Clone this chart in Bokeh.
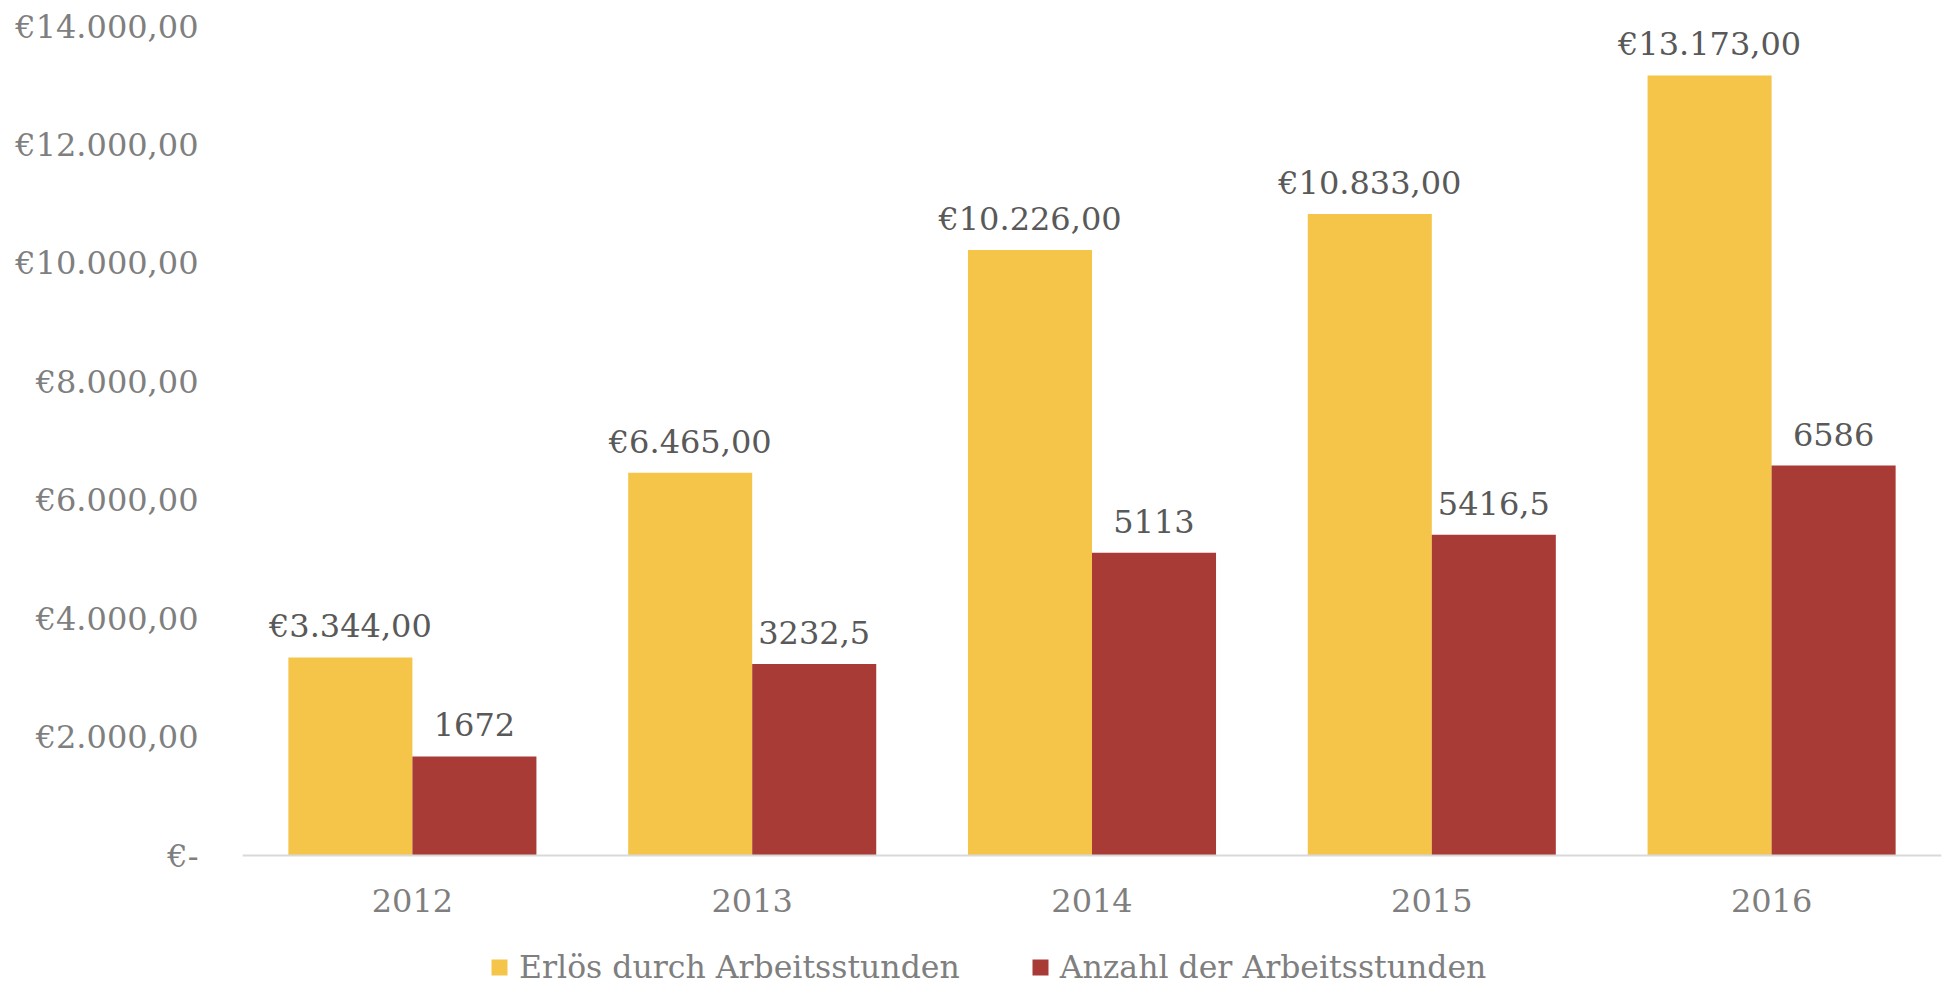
from bokeh.plotting import figure
from bokeh.models import ColumnDataSource, FactorRange, FixedTicker, LabelSet, Legend, LegendItem, Range1d
from bokeh.transform import dodge
from bokeh.core.properties import value
from bokeh.embed import file_html
from bokeh.resources import INLINE

# ---------------- data ----------------
years = ["2012", "2013", "2014", "2015", "2016"]
erloes = [3344, 6465, 10226, 10833, 13173]          # Erlös durch Arbeitsstunden (EUR)
stunden = [1672, 3232.5, 5113, 5416.5, 6586]        # Anzahl der Arbeitsstunden
series_names = ["Erlös durch Arbeitsstunden", "Anzahl der Arbeitsstunden"]
y_ticks = [0, 2000, 4000, 6000, 8000, 10000, 12000, 14000]
y_tick_labels = ["€-", "€2.000,00", "€4.000,00", "€6.000,00", "€8.000,00",
                 "€10.000,00", "€12.000,00", "€14.000,00"]


def eur(v):
    s = f"{v:,.2f}"
    s = s.replace(",", "X").replace(".", ",").replace("X", ".")
    return "€" + s


def num(v):
    if float(v) == int(v):
        return str(int(v))
    return str(v).replace(".", ",")


FONT = "DejaVu Serif"
FS = "32px"
YELLOW = "#F5C54A"
RED = "#A93B36"
AXIS_TXT = "#7f7f7f"
LBL_TXT = "#595959"

# layout (pixels)
W_FIG, H_FIG = 1950, 986
TOP, ZERO_Y = 26, 855          # pixel rows of 14000 and of 0
Y_MAX = 14000
px_per_unit = (ZERO_Y - TOP) / Y_MAX
y_start = -(H_FIG - ZERO_Y) / px_per_unit   # room below the zero line for axis labels and legend

source = ColumnDataSource(dict(
    year=years,
    erloes=erloes,
    stunden=stunden,
    erloes_lbl=[eur(v) for v in erloes],
    stunden_lbl=[num(v) for v in stunden],
))

p = figure(width=W_FIG, height=H_FIG, x_range=FactorRange(*years),
           y_range=Range1d(y_start, Y_MAX), output_backend="svg",
           toolbar_location=None, min_border_left=242, min_border_right=9,
           min_border_top=TOP, min_border_bottom=0)
p.outline_line_color = None
p.xgrid.grid_line_color = None
p.ygrid.grid_line_color = None

W = 0.365
off = W / 2
r1 = p.vbar(x=dodge("year", -off, range=p.x_range), top="erloes", bottom=0, width=W,
            source=source, fill_color=YELLOW, line_color=None)
r2 = p.vbar(x=dodge("year", off, range=p.x_range), top="stunden", bottom=0, width=W,
            source=source, fill_color=RED, line_color=None)

for xo, field in ((-off, "erloes"), (off, "stunden")):
    p.add_layout(LabelSet(x=dodge("year", xo, range=p.x_range), y=field,
                          text=field + "_lbl", source=source,
                          text_align="center", text_baseline="alphabetic",
                          y_offset=20, text_font=value(FONT),
                          text_font_size=FS, text_color=LBL_TXT))

# x axis, drawn at y = 0
xa = p.xaxis[0]
xa.fixed_location = 0
xa.axis_line_color = "#d9d9d9"
xa.axis_line_width = 2
xa.major_tick_line_color = None
xa.minor_tick_line_color = None
xa.major_label_text_font = FONT
xa.major_label_text_font_size = FS
xa.major_label_text_color = AXIS_TXT
xa.major_label_standoff = 27

# y axis
ya = p.yaxis[0]
ya.ticker = FixedTicker(ticks=y_ticks)
ya.major_label_overrides = {t: l for t, l in zip(y_ticks, y_tick_labels)}
ya.axis_line_color = None
ya.major_tick_line_color = None
ya.minor_tick_line_color = None
ya.major_label_text_font = FONT
ya.major_label_text_font_size = FS
ya.major_label_text_color = AXIS_TXT
ya.major_label_standoff = 38

legend = Legend(items=[LegendItem(label=series_names[0], renderers=[r1]),
                       LegendItem(label=series_names[1], renderers=[r2])],
                orientation="horizontal", location=(247, 1),
                glyph_width=20, glyph_height=20, label_standoff=10,
                spacing=70, padding=0, margin=0,
                border_line_color=None, background_fill_alpha=0,
                label_text_font=FONT, label_text_font_size="31.5px",
                label_text_color=AXIS_TXT)
p.add_layout(legend)

open("out.html", "w").write(file_html(p, INLINE))
